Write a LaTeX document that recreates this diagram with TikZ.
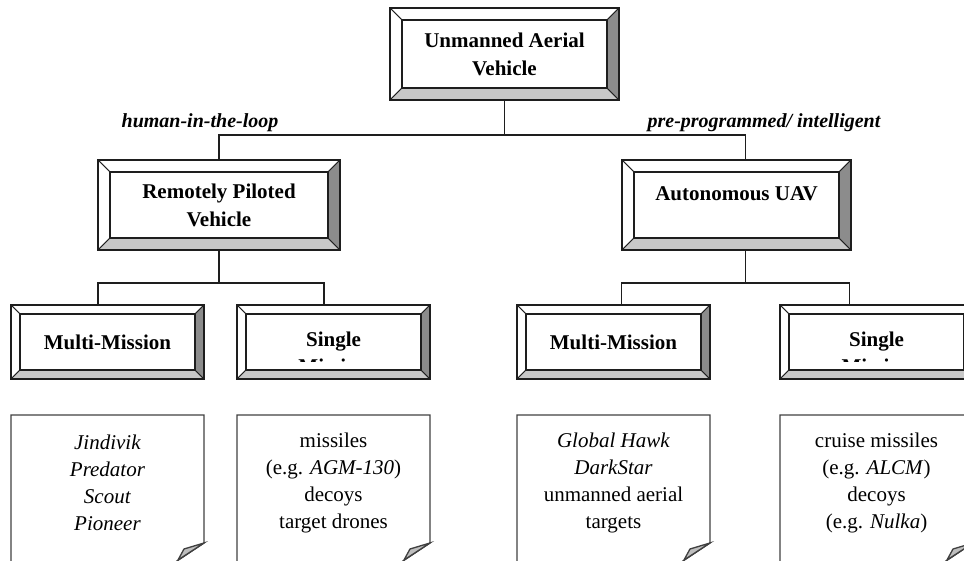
\documentclass[tikz,border=0pt]{standalone}
\usepackage{fontspec}
\setmainfont{Liberation Serif}
\usetikzlibrary{positioning,calc}

\definecolor{edge}{HTML}{1E1E1E}
\definecolor{bevellight}{HTML}{C8C8C8}
\definecolor{beveldark}{HTML}{8C8C8C}
\definecolor{flapgray}{HTML}{BEBEBE}

% raised frame round a box node: #1 node, #2 depth of the bevel
\newcommand\bevelframe[2]{%
  \filldraw[bevelline, fill=white] (#1.north west) -- (#1.north east) -- ($(#1.north east)+(-#2,-#2)$) -- ($(#1.north west)+(#2,-#2)$) -- cycle;
  \filldraw[bevelline, fill=white] (#1.north west) -- ($(#1.north west)+(#2,-#2)$) -- ($(#1.south west)+(#2,#2)$) -- (#1.south west) -- cycle;
  \filldraw[bevelline, fill=bevellight] (#1.south west) -- ($(#1.south west)+(#2,#2)$) -- ($(#1.south east)+(-#2,#2)$) -- (#1.south east) -- cycle;
  \filldraw[bevelline, fill=beveldark] (#1.north east) -- (#1.south east) -- ($(#1.south east)+(-#2,#2)$) -- ($(#1.north east)+(-#2,-#2)$) -- cycle;
  \draw[innerline] ($(#1.north west)+(#2,-#2)$) rectangle ($(#1.south east)+(-#2,#2)$);
  \draw[outerline] (#1.north west) rectangle (#1.south east);
}
% sheet with a folded corner round a note node
\newcommand\noteframe[1]{%
  \draw[noteline] (#1.north west) -- (#1.north east) -- ($(#1.north east)+(0,-128)$) -- ($(#1.north east)+(-48,-160)$) -- ($(#1.north west)+(0,-160)$) -- cycle;
  \filldraw[noteline, fill=flapgray] ($(#1.north east)+(0,-128)$) -- ($(#1.north east)+(-20,-134)$) -- ($(#1.north east)+(-26,-145)$) -- cycle;
}

\begin{document}
\begin{tikzpicture}[
  x=1pt, y=1pt,
  node distance=33pt,
  boxtext/.style={font=\bfseries\fontsize{21}{28}\selectfont},
  box/.style={boxtext, align=center, inner sep=0pt, outer sep=0pt},
  bevel/.style={append after command={\pgfextra{\bevelframe{\tikzlastnode}{#1}}}},
  bigbox/.style={box, minimum height=90pt, bevel=12},
  smallbox/.style={box, minimum width=193pt, minimum height=74pt, bevel=9},
  notebox/.style={font=\fontsize{21}{27}\selectfont, align=center, inner sep=0pt, outer sep=0pt,
    minimum width=193pt, minimum height=135pt, append after command={\pgfextra{\noteframe{\tikzlastnode}}}},
  tag/.style={font=\bfseries\itshape\fontsize{20}{24}\selectfont, inner sep=0pt, anchor=base},
  conn/.style={draw=edge, line width=1.2pt},
  bevelline/.style={draw=edge, line width=0.8pt},
  innerline/.style={draw=edge, line width=1.2pt},
  outerline/.style={draw=edge, line width=1.6pt},
  noteline/.style={draw=edge!85, line width=1.3pt}
]
\useasboundingbox (0,0) rectangle (964,560);
\clip (0,0) rectangle (964,560);

\node[bigbox, minimum width=229pt, minimum height=92pt] (uav) at (504.5,506) {Unmanned Aerial\\Vehicle};
\node[bigbox, minimum width=242pt] (rpv) at (219,355) {Remotely Piloted\\Vehicle};
\node[bigbox, minimum width=229pt, text depth=22pt] (auv) at (736.5,355) {Autonomous UAV};

\node[tag] (hitl) at (200,432) {human-in-the-loop};
\node[tag] (ppi) at (764,432) {pre-programmed/ intelligent};

\node[smallbox] (lmm) at (107.5,218) {Multi-Mission};
\node[smallbox, right=of lmm] (lsm) {Single};
\node[smallbox, right=87pt of lsm] (rmm) {Multi-Mission};
\node[smallbox, right=70pt of rmm] (rsm) {Single};

% second line of the single-mission boxes, cut off by the frame
\begin{scope}
  \clip ($(lsm.base)+(-90,-15)$) rectangle ($(lsm.base)+(90,0)$);
  \node[boxtext, inner sep=0pt, anchor=base] (lsmore) at ($(lsm.base)+(0,-27)$) {Mission};
\end{scope}
\begin{scope}
  \clip ($(rsm.base)+(-90,-15)$) rectangle ($(rsm.base)+(90,0)$);
  \node[boxtext, inner sep=0pt, anchor=base] (rsmore) at ($(rsm.base)+(0,-27)$) {Mission};
\end{scope}

\node[notebox, below=36pt of lmm] (lmmnote) {\textit{Jindivik}\\\textit{Predator}\\\textit{Scout}\\\textit{Pioneer}};
\node[notebox, below=36pt of lsm] (lsmnote) {missiles\\(e.g. \textit{AGM-130})\\decoys\\target drones};
\node[notebox, below=36pt of rmm] (rmmnote) {\textit{Global Hawk}\\\textit{DarkStar}\\unmanned aerial\\targets};
\node[notebox, below=36pt of rsm] (rsmnote) {cruise missiles\\(e.g. \textit{ALCM})\\decoys\\(e.g. \textit{Nulka})};

\draw[conn] (uav.south) -- ++(0,-35) coordinate (split0);
\draw[conn] (rpv.north) |- (split0) -| ([xshift=9pt]auv.north);
\draw[conn] (rpv.south) -- ++(0,-33) coordinate (split1);
\draw[conn] ([xshift=-9.5pt]lmm.north) |- (split1) -| ([xshift=-9.5pt]lsm.north);
\draw[conn] ([xshift=9pt]auv.south) -- ++(0,-33) coordinate (split2);
\draw[conn] ([xshift=8pt]rmm.north) |- (split2) -| ([xshift=-27pt]rsm.north);
\end{tikzpicture}
\end{document}
